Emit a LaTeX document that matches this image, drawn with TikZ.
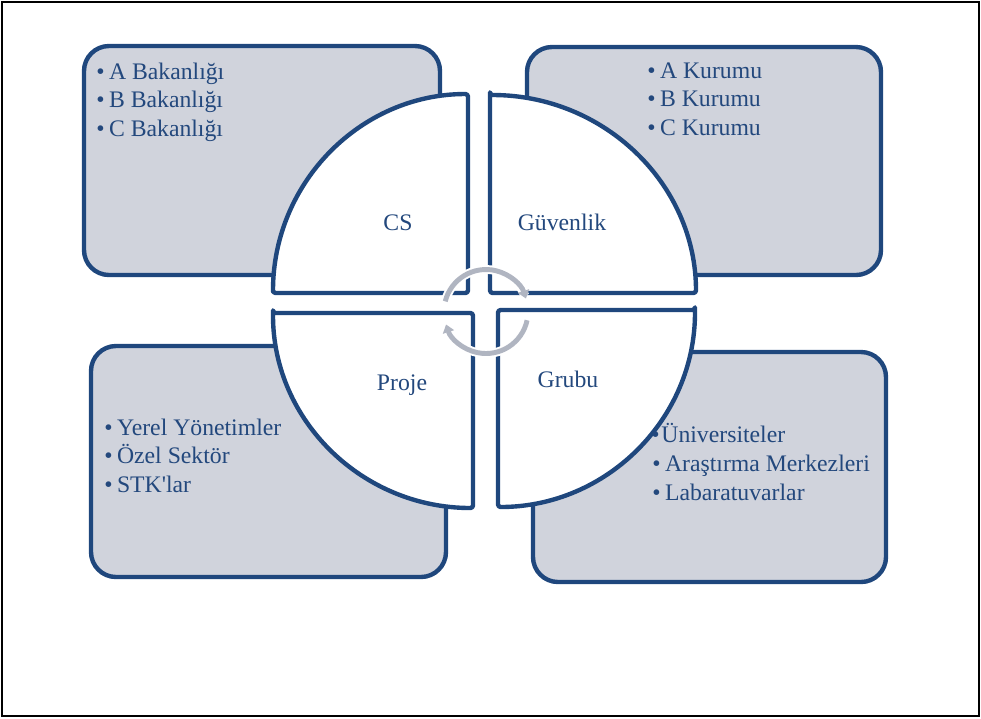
\documentclass[tikz,border=0pt]{standalone}
\usepackage{fontspec}
\setmainfont{Liberation Serif}
\usetikzlibrary{arrows.meta}
\definecolor{bdr}{RGB}{31,71,125}
\definecolor{boxfill}{RGB}{208,211,220}
\definecolor{txt}{RGB}{35,72,125}
\definecolor{cyc}{RGB}{176,181,193}
\begin{document}
\begin{tikzpicture}[x=0.02cm,y=0.02cm,
  panel/.style={draw=bdr,fill=boxfill,line width=2.5pt,rounded corners=0.5cm},
  quarter/.style={draw=bdr,fill=white,line width=2.5pt,rounded corners=1.5pt,line join=round},
  listitem/.style={anchor=base west,inner sep=0pt,text=txt,font=\fontsize{13.5}{16}\selectfont},
  ctrlabel/.style={anchor=base,inner sep=0pt,text=txt,font=\fontsize{13.5}{16}\selectfont},
  cycarrow/.style={draw=cyc,line width=2.8pt,-{Triangle[width=6.5pt,length=4.5pt]}},
  cycunder/.style={draw=white,line width=5pt}]
\useasboundingbox (0,0) rectangle (981,-718);
\draw[line width=1.2pt] (2,-2) rectangle (979,-716);
% panels
\draw[panel] (84,-46) rectangle (440,-275);
\draw[panel] (527,-47) rectangle (881,-275);
\draw[panel] (91,-346) rectangle (446,-577);
\draw[panel] (533,-352) rectangle (886,-582);
% quarters
\draw[quarter] (273,-293) -- (468,-293) -- (468,-94) arc[start angle=90,end angle=180,x radius=195,y radius=199] -- cycle;
\draw[quarter] (490,-95) -- (490,-293) -- (696,-293) arc[start angle=0,end angle=90,x radius=206,y radius=198] -- cycle;
\draw[quarter] (273,-313) -- (473,-313) -- (473,-508) arc[start angle=270,end angle=180,x radius=200,y radius=195] -- cycle;
\draw[quarter] (695,-310) -- (498,-310) -- (498,-507) arc[start angle=270,end angle=360,x radius=197,y radius=197] -- cycle;
% centre labels
\node[ctrlabel] (cs) at (398,-230) {CS};
\node[ctrlabel] (guv) at (562,-230) {Güvenlik};
\node[ctrlabel] (proje) at (402,-390) {Proje};
\node[ctrlabel] (grubu) at (568,-387) {Grubu};
% cycle arrows
\draw[cycunder] (486,-311.5) ++(166:42) arc[start angle=166,end angle=22,radius=42];
\draw[cycarrow] (486,-311.5) ++(166:42) arc[start angle=166,end angle=18,radius=42];
\draw[cycunder] (486,-311.5) ++(-12:42) arc[start angle=-12,end angle=-158,radius=42];
\draw[cycarrow] (486,-311.5) ++(-12:42) arc[start angle=-12,end angle=-162,radius=42];
% lists
\node[listitem] (tl1) at (96,-79) {•\kern2.5pt A Bakanlığı};
\node[listitem] (tl2) at (96,-107.7) {•\kern2.5pt B Bakanlığı};
\node[listitem] (tl3) at (96,-136) {•\kern2.5pt C Bakanlığı};
\node[listitem] (tr1) at (647,-78.3) {•\kern2.5pt A Kurumu};
\node[listitem] (tr2) at (647,-106.7) {•\kern2.5pt B Kurumu};
\node[listitem] (tr3) at (647,-135.7) {•\kern2.5pt C Kurumu};
\node[listitem] (bl1) at (104,-435) {•\kern2.5pt Yerel Yönetimler};
\node[listitem] (bl2) at (104,-463.3) {•\kern2.5pt Özel Sektör};
\node[listitem] (bl3) at (104,-492.3) {•\kern2.5pt STK\textquotesingle lar};
\node[listitem] (br1) at (651,-442.3) {•\kern1pt Üniversiteler};
\node[listitem] (br2) at (652,-471.7) {•\kern2.5pt Araştırma Merkezleri};
\node[listitem] (br3) at (652,-500) {•\kern2.5pt Labaratuvarlar};
\end{tikzpicture}
\end{document}
